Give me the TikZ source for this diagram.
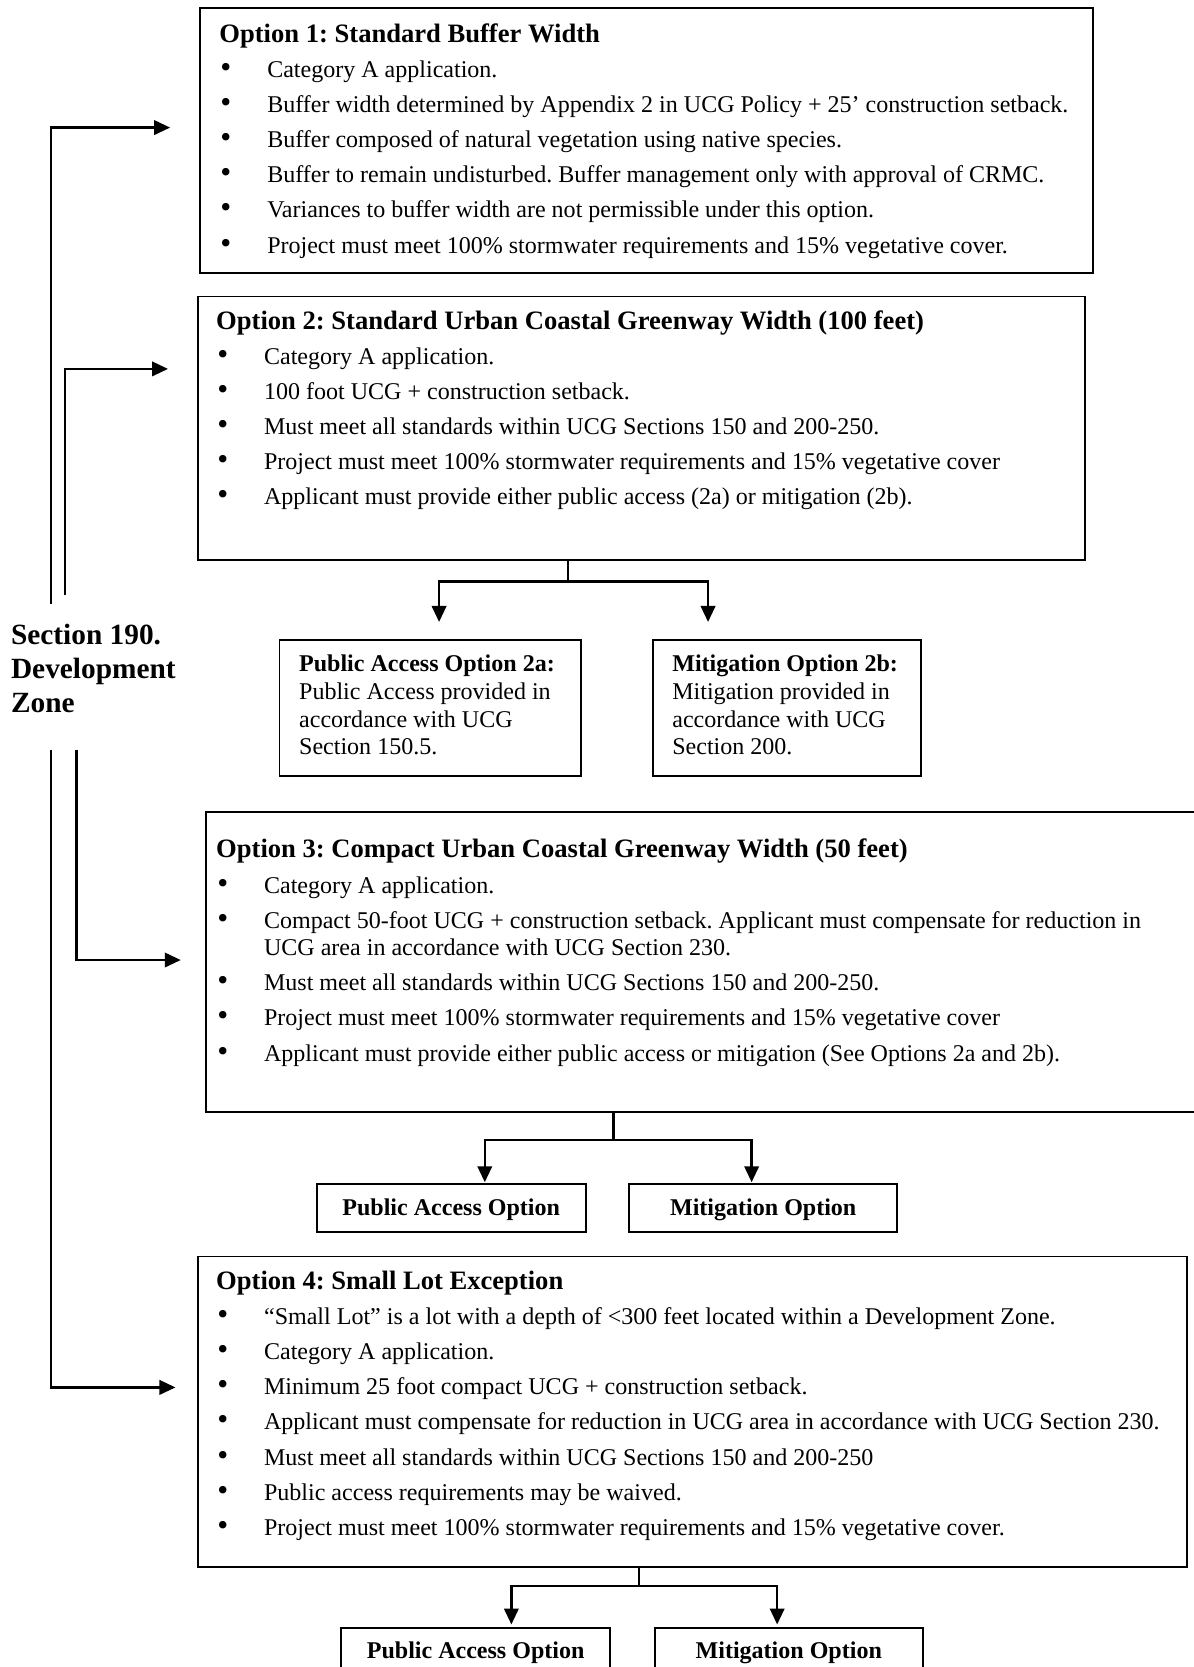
\documentclass[tikz,border=0pt]{standalone}
\usepackage{fontspec}
\setmainfont{Liberation Serif}
\usetikzlibrary{arrows.meta}
\frenchspacing
\newcommand{\bodyfnt}{\fontsize{11.3}{13}\selectfont}
\newcommand{\ttlfnt}{\fontsize{12.5}{13}\selectfont\bfseries}
\newcommand{\bitem}[1]{\par\hangindent=22.5pt\hangafter=1\noindent\hspace*{0.5pt}\makebox[22pt][l]{\scalebox{1.3}{•}}#1}
\tikzset{
  box/.style={draw, line width=0.9pt, inner sep=0pt, anchor=north west},
  content/.style={anchor=base west, inner sep=0pt},
  conn/.style={line width=1.1pt},
  arr/.style={line width=1.1pt, -{Triangle[length=7.5pt,width=6.8pt]}},
}
\begin{document}
\begin{tikzpicture}[x=0.5pt,y=-0.5pt]
\useasboundingbox (0,0) rectangle (1123,1568);
\clip (0,0) rectangle (1123,1568);

% ---------- boxes ----------
\node[box, minimum width=420pt, minimum height=124.5pt] (b1) at (187,7) {};
\node[box, minimum width=417.5pt, minimum height=124pt] (b2) at (185,278) {};
\node[box, minimum width=142pt, minimum height=64pt] (b2a) at (262,601) {};
\node[box, minimum width=126pt, minimum height=64pt] (b2b) at (613,601) {};
\node[box, minimum width=475pt, minimum height=141pt] (b3) at (193,763) {};
\node[box, minimum width=126.5pt, minimum height=22.5pt] (pa3) at (297,1113) {};
\node[box, minimum width=126pt, minimum height=22.5pt] (mo3) at (591,1113) {};
\node[box, minimum width=465.5pt, minimum height=146pt] (b4) at (185,1181) {};
\node[box, minimum width=126.5pt, minimum height=40pt] (pa4) at (320,1530) {};
\node[box, minimum width=126pt, minimum height=40pt] (mo4) at (615,1530) {};

% ---------- texts ----------
\node[content] (t1) at (206,40) {\begin{minipage}[t]{406pt}\bodyfnt\parskip=3.5pt\raggedright
{\ttlfnt Option 1: Standard Buffer Width}
\bitem{Category A application.}
\bitem{Buffer width determined by Appendix 2 in UCG Policy + 25’ construction setback.}
\bitem{Buffer composed of natural vegetation using native species.}
\bitem{Buffer to remain undisturbed. Buffer management only with approval of CRMC.}
\bitem{Variances to buffer width are not permissible under this option.}
\bitem{Project must meet 100\% stormwater requirements and 15\% vegetative cover.}
\end{minipage}};

\node[content] (t2) at (203,310) {\begin{minipage}[t]{404pt}\bodyfnt\parskip=3.5pt\raggedright
{\ttlfnt Option 2: Standard Urban Coastal Greenway Width (100 feet)}
\bitem{Category A application.}
\bitem{100 foot UCG + construction setback.}
\bitem{Must meet all standards within UCG Sections 150 and 200-250.}
\bitem{Project must meet 100\% stormwater requirements and 15\% vegetative cover}
\bitem{Applicant must provide either public access (2a) or mitigation (2b).}
\end{minipage}};

\node[content] (t2a) at (281,632) {\begin{minipage}[t]{129pt}\bodyfnt\raggedright
\textbf{Public Access Option 2a:}\\
Public Access provided in\\
accordance with UCG\\
Section 150.5.
\end{minipage}};

\node[content] (t2b) at (632,632) {\begin{minipage}[t]{114pt}\bodyfnt\raggedright
\textbf{Mitigation Option 2b:}\\
Mitigation provided in\\
accordance with UCG\\
Section 200.
\end{minipage}};

\node[content] (t3) at (203,807) {\begin{minipage}[t]{456pt}\bodyfnt\parskip=3.5pt\raggedright
{\ttlfnt Option 3: Compact Urban Coastal Greenway Width (50 feet)}
\bitem{Category A application.}
\bitem{Compact 50-foot UCG + construction setback. Applicant must compensate for reduction in\newline UCG area in accordance with UCG Section 230.}
\bitem{Must meet all standards within UCG Sections 150 and 200-250.}
\bitem{Project must meet 100\% stormwater requirements and 15\% vegetative cover}
\bitem{Applicant must provide either public access or mitigation (See Options 2a and 2b).}
\end{minipage}};

\node[anchor=base, inner sep=0pt, font=\bodyfnt\bfseries] (t3pa) at (pa3 |- 0,1143) {Public Access Option};
\node[anchor=base, inner sep=0pt, font=\bodyfnt\bfseries] (t3mo) at (mo3 |- 0,1143) {Mitigation Option};

\node[content] (t4) at (203,1213) {\begin{minipage}[t]{452pt}\bodyfnt\parskip=3.5pt\raggedright
{\ttlfnt Option 4: Small Lot Exception}
\bitem{“Small Lot” is a lot with a depth of <300 feet located within a Development Zone.}
\bitem{Category A application.}
\bitem{Minimum 25 foot compact UCG + construction setback.}
\bitem{Applicant must compensate for reduction in UCG area in accordance with UCG Section 230.}
\bitem{Must meet all standards within UCG Sections 150 and 200-250}
\bitem{Public access requirements may be waived.}
\bitem{Project must meet 100\% stormwater requirements and 15\% vegetative cover.}
\end{minipage}};

\node[anchor=base, inner sep=0pt, font=\bodyfnt\bfseries] (t4pa) at (pa4.north |- 0,1560) {Public Access Option};
\node[anchor=base, inner sep=0pt, font=\bodyfnt\bfseries] (t4mo) at (mo4.north |- 0,1560) {Mitigation Option};

\node[content] (sec) at (10,606) {\begin{minipage}[t]{80pt}\fontsize{13.8}{16}\selectfont\bfseries
Section 190.\\
Development\\
Zone
\end{minipage}};

% ---------- left connectors ----------
\coordinate (s1) at (48,568);   \coordinate (e1) at (160,120);
\coordinate (s2) at (61,560);   \coordinate (e2) at (158,347);
\coordinate (s3) at (72,705);   \coordinate (e3) at (170,903);
\coordinate (s4) at (48,705);   \coordinate (e4) at (165,1305);
\draw[arr] (s1) |- (e1);
\draw[arr] (s2) |- (e2);
\draw[arr] (s3) |- (e3);
\draw[arr] (s4) |- (e4);

% ---------- branch connectors ----------
\coordinate (j2) at (534,547);
\coordinate (a2a) at (413,585);
\coordinate (a2b) at (666,585);
\draw[conn] (b2.south -| j2) -- (j2);
\draw[arr] (j2) -| (a2a);
\draw[arr] (j2) -| (a2b);

\coordinate (j3) at (577,1072);
\coordinate (a3a) at (456,1112);
\coordinate (a3b) at (707,1112);
\draw[conn] (b3.south -| j3) -- (j3);
\draw[arr] (j3) -| (a3a);
\draw[arr] (j3) -| (a3b);

\coordinate (j4) at (601,1492);
\coordinate (a4a) at (481,1528);
\coordinate (a4b) at (731,1528);
\draw[conn] (b4.south -| j4) -- (j4);
\draw[arr] (j4) -| (a4a);
\draw[arr] (j4) -| (a4b);
\end{tikzpicture}
\end{document}
